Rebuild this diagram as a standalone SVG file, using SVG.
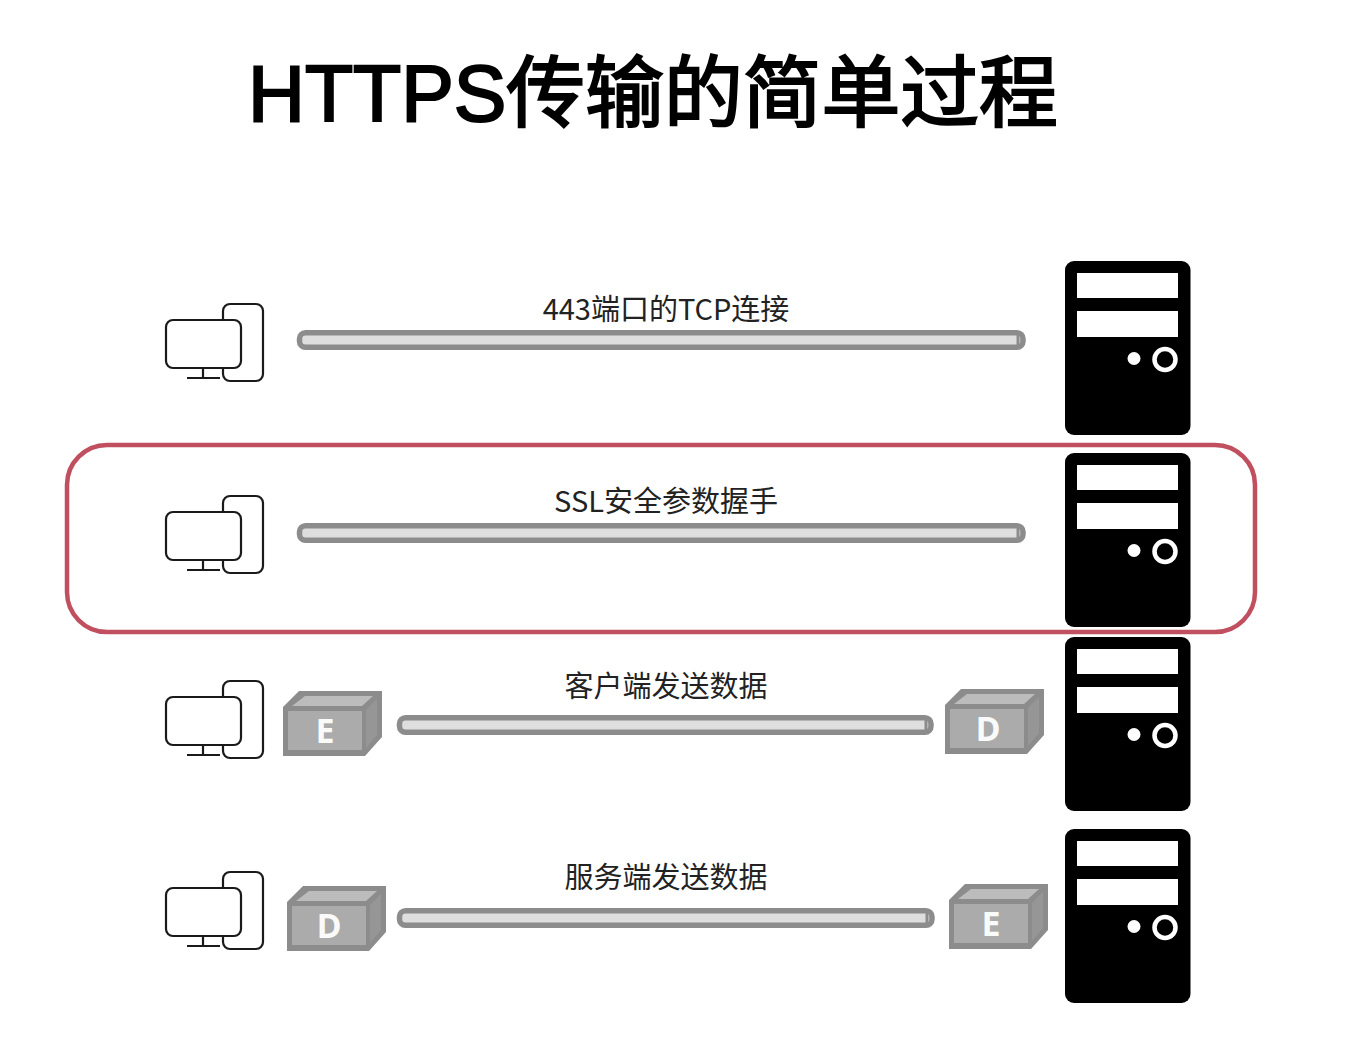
<svg xmlns="http://www.w3.org/2000/svg" width="1350" height="1054" viewBox="0 0 1350 1054">
<style>
.title{font-family:"Liberation Sans","Noto Sans CJK SC",sans-serif;font-size:78.800px;font-weight:400;fill:#000;stroke:#000;stroke-width:2.200px}
.lbl{font-family:"Noto Sans CJK SC","Noto Sans",sans-serif;font-size:29px;font-weight:400;fill:#222;text-anchor:middle}
.pipe{fill:#dedede;stroke:#8c8c8c;stroke-width:5.500px}
.pc{fill:none;stroke:#1a1a1a;stroke-width:2.200px}
.letter{font-family:"Open Sans",sans-serif;font-weight:700;font-size:34px;fill:#fafafa;text-anchor:middle}
</style>
<defs>
<symbol id="server" width="126" height="174" overflow="visible">
<rect x="0" y="0" width="125.500" height="174" rx="9" fill="#000"/>
<rect x="12" y="12" width="101" height="25" fill="#fff"/>
<rect x="12" y="50" width="101" height="26" fill="#fff"/>
<circle cx="69" cy="97.500" r="6.500" fill="#fff"/>
<circle cx="100" cy="98.500" r="10.500" fill="none" stroke="#fff" stroke-width="4.500"/>
</symbol>
<symbol id="pc" width="100" height="80" overflow="visible">
<path class="pc" d="M57 17V8a7 7 0 0 1 7-7H90a7 7 0 0 1 7 7V71a7 7 0 0 1-7 7H64a7 7 0 0 1-7-7V65"/>
<rect class="pc" x="0" y="17" width="75" height="48" rx="7"/>
<path class="pc" d="M37 65V75M21 75H54"/>
</symbol>
<symbol id="box" width="100" height="66" overflow="visible">
<polygon points="0,16 16,0 99,0 99,46 82,65 0,65" fill="#8c8c8c"/>
<rect x="5" y="20" width="74" height="39" fill="#ababab"/>
<polygon points="9,15 22,5 90,5 79,15" fill="#bcbcbc"/>
<polygon points="83,19 94,8 94,44 83,57" fill="#969696"/>
</symbol>
</defs>
<text class="title" x="248" y="121">HTTPS传输的简单过程</text>

<g id="connectors">
<rect class="pipe" x="299.500" y="332.750" width="723.500" height="14.500" rx="6"/>
<rect class="pipe" x="299.500" y="525.750" width="723.500" height="14.500" rx="6"/>
<rect class="pipe" x="399.500" y="717.750" width="531.500" height="14.500" rx="6"/>
<rect class="pipe" x="399.500" y="910.750" width="532.500" height="14.500" rx="6"/>
<path d="M1018 335V345M1018 528V538M926 720V730M927 913V923" stroke="#8c8c8c" stroke-width="3" fill="none"/>
</g>

<g id="highlight"><rect x="67" y="445" width="1188" height="187" rx="40" fill="none" stroke="#c0505f" stroke-width="4.500"/></g>

<g id="row1">
<g id="client1"><use href="#pc" x="166" y="303"/></g>
<text class="lbl" x="666" y="320">443端口的TCP连接</text>
<g id="server1"><use href="#server" x="1065" y="261"/></g>
</g>
<g id="row2">
<g id="client2"><use href="#pc" x="166" y="495"/></g>
<text class="lbl" x="666" y="512">SSL安全参数握手</text>
<g id="server2"><use href="#server" x="1065" y="453"/></g>
</g>
<g id="row3">
<g id="client3"><use href="#pc" x="166" y="680"/></g>
<g id="box-e1"><use href="#box" x="283" y="691"/><text class="letter" x="325" y="743">E</text></g>
<text class="lbl" x="666" y="697">客户端发送数据</text>
<g id="box-d1"><use href="#box" x="945" y="689"/><text class="letter" x="988" y="741">D</text></g>
<g id="server3"><use href="#server" x="1065" y="637"/></g>
</g>
<g id="row4">
<g id="client4"><use href="#pc" x="166" y="871"/></g>
<g id="box-d2"><use href="#box" x="287" y="886"/><text class="letter" x="329" y="938">D</text></g>
<text class="lbl" x="666" y="888">服务端发送数据</text>
<g id="box-e2"><use href="#box" x="949" y="884"/><text class="letter" x="991" y="936">E</text></g>
<g id="server4"><use href="#server" x="1065" y="829"/></g>
</g>
</svg>
